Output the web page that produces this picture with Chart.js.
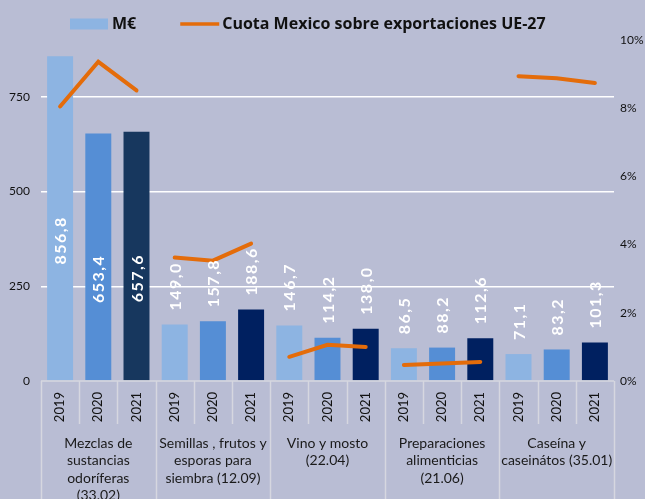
<!DOCTYPE html>
<html>
<head>
<meta charset="utf-8">
<script src="https://cdn.jsdelivr.net/npm/chart.js@4.4.0/dist/chart.umd.min.js"></script>
<style>
  html, body { margin: 0; padding: 0; background: #b9bdd4; }
  #wrap { width: 645px; height: 499px; position: relative; }
</style>
</head>
<body>
<div id="wrap"><canvas id="chart"></canvas></div>
<script>
// Data
const groups = [
  ["Mezclas de", "sustancias", "odoríferas", "(33.02)"],
  ["Semillas , frutos y", "esporas para", "siembra (12.09)"],
  ["Vino y mosto", "(22.04)"],
  ["Preparaciones", "alimenticias", "(21.06)"],
  ["Caseína y", "caseinátos (35.01)"],
];
const years = ["2019", "2020", "2021"];
const valuesMEUR = [856.8, 653.4, 657.6, 149.0, 157.8, 188.6, 146.7, 114.2, 138.0, 86.5, 88.2, 112.6, 71.1, 83.2, 101.3];
const shareUE27 = [8.05, 9.36, 8.52, 3.62, 3.53, 4.03, 0.71, 1.06, 1.0, 0.47, 0.51, 0.56, 8.94, 8.88, 8.74];
const leftTicks = [0, 250, 500, 750];
const rightTicks = [0, 2, 4, 6, 8, 10];

const labels = [];
groups.forEach(() => years.forEach((y) => labels.push(y)));

const yearColors = ["#8db4e2", "#558ed5", "#002060"];
const barColors = labels.map((y, i) => {
  if (i === 2) return "#17375e";
  return yearColors[i % 3];
});
const orange = "#e46c0a";
const FONT = "Lato, 'Open Sans', sans-serif";

const extrasPlugin = {
  id: "extras",
  afterDatasetsDraw(chart) {
    const ctx = chart.ctx;
    const area = chart.chartArea;
    const step = (area.right - area.left) / labels.length;

    // axis line and separators
    ctx.save();
    ctx.strokeStyle = "#d6d7e0";
    ctx.lineWidth = 1.5;
    ctx.beginPath();
    ctx.moveTo(area.left, area.bottom);
    ctx.lineTo(area.right, area.bottom);
    for (let i = 0; i <= labels.length; i++) {
      const x = Math.round(area.left + i * step) + 0.5;
      ctx.moveTo(x, area.bottom);
      ctx.lineTo(x, i % 3 === 0 ? chart.height : area.bottom + 43);
    }
    ctx.stroke();

    // group labels
    ctx.fillStyle = "#1a1a1a";
    ctx.font = "14px " + FONT;
    ctx.textAlign = "center";
    ctx.textBaseline = "middle";
    groups.forEach((lines, g) => {
      const cx = area.left + (g * 3 + 1.5) * step;
      lines.forEach((t, k) => ctx.fillText(t, cx, area.bottom + 62 + k * 17.5));
    });

    // value labels on bars
    const meta = chart.getDatasetMeta(0);
    ctx.fillStyle = "#ffffff";
    ctx.font = "bold 16px " + FONT;
    ctx.letterSpacing = "1.5px";
    meta.data.forEach((bar, i) => {
      const v = valuesMEUR[i];
      const txt = v.toFixed(1).replace(".", ",");
      ctx.save();
      if (v > 500) {
        ctx.translate(bar.x, (bar.y + bar.base) / 2 + 22);
        ctx.rotate(-Math.PI / 2);
        ctx.textAlign = "center";
      } else {
        ctx.translate(bar.x, bar.y - 14);
        ctx.rotate(-Math.PI / 2);
        ctx.textAlign = "left";
      }
      ctx.textBaseline = "middle";
      ctx.fillText(txt, 0, 1);
      ctx.restore();
    });
    ctx.letterSpacing = "0px";

    // legend
    const ly = 24;
    let lx = 70;
    ctx.font = "bold 16px 'Open Sans', Lato, sans-serif";
    ctx.textAlign = "left";
    ctx.fillStyle = yearColors[0];
    ctx.fillRect(lx, ly - 5.5, 38, 11);
    lx += 42;
    ctx.fillStyle = "#111111";
    ctx.fillText(chart.data.datasets[0].label, lx, ly);
    lx += ctx.measureText(chart.data.datasets[0].label).width + 44;
    ctx.strokeStyle = orange;
    ctx.lineWidth = 3.5;
    ctx.beginPath();
    ctx.moveTo(lx, ly);
    ctx.lineTo(lx + 39, ly);
    ctx.stroke();
    lx += 42;
    ctx.fillText(chart.data.datasets[1].label, lx, ly);
    ctx.restore();
  },
};

new Chart(document.getElementById("chart"), {
  data: {
    labels: labels,
    datasets: [
      {
        type: "bar",
        label: "M€",
        data: valuesMEUR,
        backgroundColor: barColors,
        borderWidth: 0,
        barPercentage: 0.68,
        categoryPercentage: 1,
        yAxisID: "y",
        order: 1,
      },
      {
        type: "line",
        label: "Cuota Mexico sobre exportaciones UE-27",
        data: shareUE27,
        borderColor: orange,
        borderWidth: 4,
        borderCapStyle: "round",
        pointRadius: 0,
        tension: 0,
        yAxisID: "y1",
        order: 0,
        segment: {
          borderColor: (c) => (c.p0DataIndex % 3 === 2 ? "rgba(0,0,0,0)" : orange),
        },
      },
    ],
  },
  options: {
    responsive: true,
    maintainAspectRatio: false,
    animation: false,
    layout: { padding: { top: 40, left: 0, right: 0, bottom: 0 } },
    plugins: {
      legend: { display: false },
      tooltip: { enabled: false },
    },
    scales: {
      x: {
        grid: { display: false, drawTicks: false },
        border: { display: false },
        ticks: {
          autoSkip: false,
          minRotation: 90,
          maxRotation: 90,
          padding: 11,
          color: "#111111",
          font: { family: FONT, size: 13 },
        },
        afterFit: (scale) => { scale.height = 118; },
      },
      y: {
        position: "left",
        min: 0,
        max: 900,
        afterBuildTicks: (scale) => { scale.ticks = leftTicks.map((v) => ({ value: v })); },
        grid: {
          drawTicks: false,
          color: (c) => (c.tick && c.tick.value === 0 ? "rgba(0,0,0,0)" : "#ffffff"),
          lineWidth: 1.5,
        },
        border: { display: false },
        ticks: {
          padding: 11,
          color: "#111111",
          font: { family: FONT, size: 12 },
        },
        afterFit: (scale) => { scale.width = 41; },
      },
      y1: {
        position: "right",
        min: 0,
        max: 10,
        afterBuildTicks: (scale) => { scale.ticks = rightTicks.map((v) => ({ value: v })); },
        grid: { display: false, drawTicks: false },
        border: { display: false },
        ticks: {
          padding: 6,
          color: "#111111",
          font: { family: FONT, size: 12 },
          callback: (v) => v + "%",
        },
        afterFit: (scale) => { scale.width = 31; },
      },
    },
  },
  plugins: [extrasPlugin],
});
</script>
</body>
</html>
